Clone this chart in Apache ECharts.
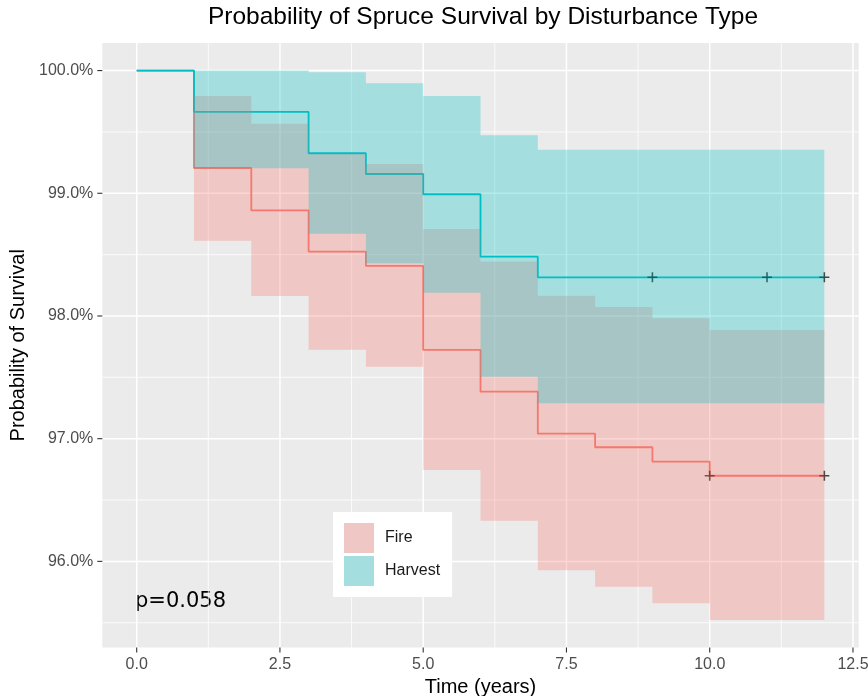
<!DOCTYPE html>
<html>
<head>
<meta charset="utf-8">
<script src="https://cdn.jsdelivr.net/npm/echarts@6/dist/echarts.min.js"></script>
<style>
  html, body { margin: 0; padding: 0; background: #fff; }
  #chart { width: 868px; height: 696px; }
</style>
</head>
<body>
<div id="chart"></div>
<script>
// Kaplan-Meier estimates (percent) with 95% confidence limits, by disturbance type.
// Each value holds from its time until the next time in the list.
const fireTimes   = [0, 1, 2, 3, 4, 5, 6, 7, 8, 9, 10, 12];
const fireSurv    = [100, 99.206, 98.861, 98.524, 98.408, 97.723, 97.383, 97.041, 96.930, 96.813, 96.698, 96.698];
const fireUpper   = [100, 99.793, 99.567, 99.320, 99.239, 98.709, 98.443, 98.165, 98.074, 97.981, 97.886, 97.886];
const fireLower   = [100, 98.614, 98.163, 97.725, 97.587, 96.745, 96.332, 95.927, 95.794, 95.659, 95.522, 95.522];
const fireCensor  = [10, 12];

const harvestTimes  = [0, 1, 3, 4, 5, 6, 7, 12];
const harvestSurv   = [100, 99.663, 99.326, 99.157, 98.992, 98.483, 98.315, 98.315];
const harvestUpper  = [100, 100, 99.986, 99.896, 99.793, 99.473, 99.355, 99.355];
const harvestLower  = [100, 99.204, 98.670, 98.430, 98.190, 97.505, 97.288, 97.288];
const harvestCensor = [9, 11, 12];

const xTicks = [0, 2.5, 5, 7.5, 10, 12.5];
const xMinor = [1.25, 3.75, 6.25, 8.75, 11.25];
const yTicks = [96, 97, 98, 99, 100];
const yMinor = [95.5, 96.5, 97.5, 98.5, 99.5];
const pValueText = 'p=0.058';

const FIRE = '#F8766D';
const HARVEST = '#00BFC4';
const FONT = 'Liberation Sans';

// Axis ranges padded by 5% of the data span on each side
const tMax = Math.max(...fireTimes, ...harvestTimes);
const xPad = tMax * 0.05;
const yLo = Math.min(...fireLower, ...harvestLower);
const yHi = Math.max(...fireUpper, ...harvestUpper);
const yPad = (yHi - yLo) * 0.05;

function stepValue(times, surv, t) {
  let v = surv[0];
  for (let i = 0; i < times.length; i++) if (times[i] <= t) v = surv[i];
  return v;
}

function pairs(times, vals) {
  return times.map((t, i) => [t, vals[i]]);
}

// Confidence band drawn as a single stepped polygon
function bandSeries(name, times, upper, lower, fill) {
  return {
    name: name,
    type: 'custom',
    z: 5,
    silent: true,
    data: [[0, 100]],
    itemStyle: { color: fill },
    renderItem: function (params, api) {
      const n = times.length;
      const pts = [];
      for (let i = 1; i < n - 1; i++) {
        pts.push(api.coord([times[i], upper[i]]));
        pts.push(api.coord([times[i + 1], upper[i]]));
      }
      for (let i = n - 2; i >= 1; i--) {
        pts.push(api.coord([times[i + 1], lower[i]]));
        pts.push(api.coord([times[i], lower[i]]));
      }
      return { type: 'polygon', shape: { points: pts }, style: { fill: fill } };
    }
  };
}

// Panel grid lines (major and minor) plus the outward tick marks
const TICK_LEN = 5;
const gridSeries = {
  type: 'custom',
  z: 1,
  silent: true,
  clip: false,
  data: [[0, 100]],
  renderItem: function (params, api) {
    const cs = params.coordSys;
    const children = [];
    const seg = (x1, y1, x2, y2, stroke, w) => children.push({
      type: 'line', shape: { x1, y1, x2, y2 }, style: { stroke, lineWidth: w }
    });
    yMinor.forEach(v => { const y = api.coord([0, v])[1]; seg(cs.x, y, cs.x + cs.width, y, '#fff', 0.8); });
    xMinor.forEach(v => { const x = api.coord([v, 100])[0]; seg(x, cs.y, x, cs.y + cs.height, '#fff', 0.8); });
    yTicks.forEach(v => {
      const y = api.coord([0, v])[1];
      seg(cs.x, y, cs.x + cs.width, y, '#fff', 1.5);
      seg(cs.x - TICK_LEN, y, cs.x, y, '#333', 1.1);
    });
    xTicks.forEach(v => {
      const x = api.coord([v, 100])[0];
      seg(x, cs.y, x, cs.y + cs.height, '#fff', 1.5);
      seg(x, cs.y + cs.height, x, cs.y + cs.height + TICK_LEN, '#333', 1.1);
    });
    return { type: 'group', children: children };
  }
};

const plusSymbol = 'path://M4.2,0H5.8V4.2H10V5.8H5.8V10H4.2V5.8H0V4.2H4.2Z';

const chart = echarts.init(document.getElementById('chart'), null, { renderer: 'canvas' });

chart.setOption({
  animation: false,
  backgroundColor: '#fff',
  grid: {
    left: 102.3, top: 43.1, right: 9.3, bottom: 48.5,
    outerBoundsMode: 'none', containLabel: false,
    show: true, backgroundColor: '#EBEBEB', borderWidth: 0
  },
  xAxis: {
    type: 'value',
    min: -xPad, max: tMax + xPad,
    splitLine: { show: false },
    axisLine: { show: false, onZero: false },
    axisTick: { show: false },
    axisLabel: { customValues: xTicks, formatter: v => v.toFixed(1), color: '#4D4D4D',
      fontSize: 16, fontFamily: FONT, margin: 9 },
    name: 'Time (years)', nameLocation: 'middle', nameGap: 28,
    nameTextStyle: { fontSize: 20, fontFamily: FONT, color: '#000' }
  },
  yAxis: {
    type: 'value',
    min: yLo - yPad, max: yHi + yPad,
    splitLine: { show: false },
    axisLine: { show: false, onZero: false },
    axisTick: { show: false },
    axisLabel: { customValues: yTicks, formatter: v => v.toFixed(1) + '%', color: '#4D4D4D',
      fontSize: 16, fontFamily: FONT, margin: 9 },
    name: 'Probability of Survival', nameLocation: 'middle', nameGap: 72,
    nameTextStyle: { fontSize: 20, fontFamily: FONT, color: '#000' }
  },
  legend: {
    orient: 'vertical', left: 333, top: 512,
    backgroundColor: '#fff',
    padding: [11, 12, 11, 11],
    itemWidth: 30, itemHeight: 30, itemGap: 3,
    icon: 'rect', selectedMode: false,
    textStyle: { fontSize: 16, fontFamily: FONT, color: '#1A1A1A', padding: [0, 0, 0, 6] },
    data: [
      { name: 'Fire', itemStyle: { color: '#EFC8C5' } },
      { name: 'Harvest', itemStyle: { color: '#A5DEDF' } }
    ]
  },
  graphic: [
    { type: 'text', x: 483, y: 5, silent: true,
      style: { text: 'Probability of Spruce Survival by Disturbance Type', fontSize: 24.5,
        fontFamily: FONT, fill: '#000', align: 'center', verticalAlign: 'top' } },
    { type: 'text', x: 135, y: 602, silent: true,
      style: { text: pValueText, fontSize: 21, fontFamily: 'DejaVu Sans', fill: '#000',
        align: 'left', verticalAlign: 'middle' } }
  ],
  series: [
    gridSeries,
    { name: 'Fire survival', type: 'line', step: 'end', z: 3, silent: true, showSymbol: false,
      data: pairs(fireTimes, fireSurv), lineStyle: { color: FIRE, width: 1.8 }, itemStyle: { color: FIRE } },
    { name: 'Harvest survival', type: 'line', step: 'end', z: 3, silent: true, showSymbol: false,
      data: pairs(harvestTimes, harvestSurv), lineStyle: { color: HARVEST, width: 1.8 }, itemStyle: { color: HARVEST } },
    { name: 'Fire censored', type: 'scatter', z: 4, silent: true, symbol: plusSymbol, symbolSize: 10,
      data: fireCensor.map(t => [t, stepValue(fireTimes, fireSurv, t)]), itemStyle: { color: '#1A1A1A' } },
    { name: 'Harvest censored', type: 'scatter', z: 4, silent: true, symbol: plusSymbol, symbolSize: 10,
      data: harvestCensor.map(t => [t, stepValue(harvestTimes, harvestSurv, t)]), itemStyle: { color: '#1A1A1A' } },
    bandSeries('Fire', fireTimes, fireUpper, fireLower, 'rgba(248,118,109,0.3)'),
    bandSeries('Harvest', harvestTimes, harvestUpper, harvestLower, 'rgba(0,191,196,0.3)')
  ]
});
</script>
</body>
</html>
